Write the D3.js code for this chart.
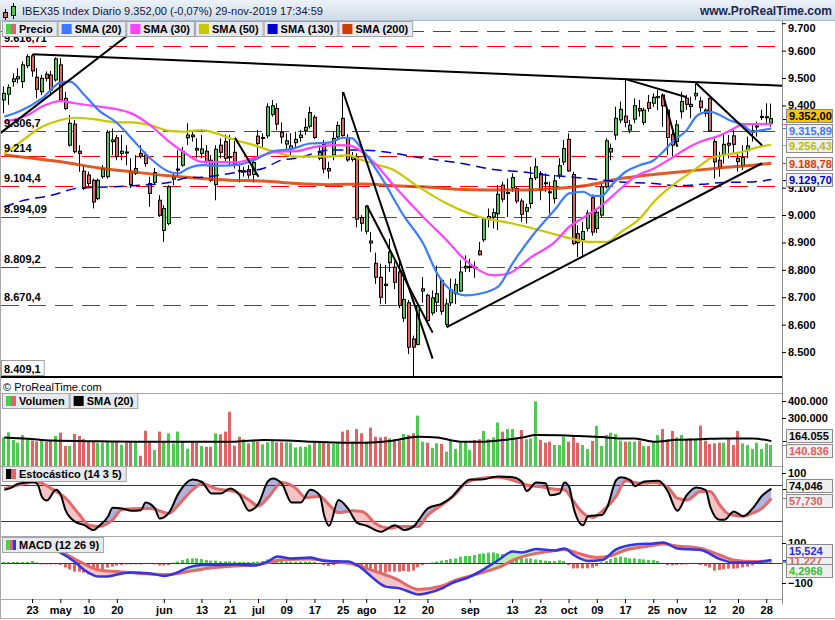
<!DOCTYPE html>
<html>
<head>
<meta charset="utf-8">
<script src="https://cdn.jsdelivr.net/npm/d3@7"></script>
<style>
  body { margin: 0; background: #fff; }
  text { font-family: "Liberation Sans", Arial, sans-serif; font-size: 11px; }
  .b { font-weight: bold; }
</style>
</head>
<body>
<svg id="chart" width="835" height="620"></svg>
<script>
// sessions shown on the chart (IBEX35 daily, 11-abr .. 29-nov-2019)
const months = ["abr", "may", "jun", "jul", "ago", "sep", "oct", "nov"];
const sessionDays = [
  [11,12,15,16,17,18,23,24,25,26,29,30],
  [2,3,6,7,8,9,10,13,14,15,16,17,20,21,22,23,24,27,28,29,30,31],
  [3,4,5,6,7,10,11,12,13,14,17,18,19,20,21,24,25,26,27,28],
  [1,2,3,4,5,8,9,10,11,12,15,16,17,18,19,22,23,24,25,26,29,30,31],
  [1,2,5,6,7,8,9,12,13,14,15,16,19,20,21,22,23,26,27,28,29,30],
  [2,3,4,5,6,9,10,11,12,13,16,17,18,19,20,23,24,25,26,27,30],
  [1,2,3,4,7,8,9,10,11,14,15,16,17,18,21,22,23,24,25,28,29,30,31],
  [1,4,5,6,7,8,11,12,13,14,15,18,19,20,21,22,25,26,27,28,29]
];

// [open, high, low, close]
const candles = [
  [9420,9469,9371,9444],[9441,9477,9402,9465],[9487,9517,9469,9497],[9497,9536,9481,9505],[9487,9560,9463,9548],[9545,9587,9536,9578],[9581,9587,9505,9526],[9503,9536,9426,9459],[9450,9511,9438,9499],[9514,9524,9487,9499],
  [9511,9526,9440,9456],[9493,9575,9487,9570],[9548,9572,9414,9420],[9426,9450,9383,9389],[9255,9365,9250,9335],[9332,9347,9225,9231],[9233,9255,9158,9225],[9160,9182,9091,9097],[9146,9158,9105,9115],[9127,9133,9024,9048],
  [9060,9133,9054,9127],[9140,9182,9133,9170],[9140,9310,9133,9302],[9268,9316,9219,9274],[9282,9292,9200,9213],[9225,9292,9200,9233],[9230,9255,9182,9229],[9158,9207,9099,9111],[9152,9219,9146,9170],[9225,9255,9207,9215],
  [9219,9231,9176,9188],[9115,9140,9030,9079],[9119,9172,9109,9155],[9054,9073,8993,8999],[8944,9036,8902,9024],[8969,9109,8963,9103],[9131,9152,9109,9139],[9164,9237,9140,9168],[9182,9249,9176,9233],[9282,9335,9255,9292],
  [9292,9310,9268,9286],[9243,9280,9207,9237],[9225,9292,9207,9241],[9233,9255,9188,9194],[9200,9219,9121,9127],[9111,9255,9054,9240],[9255,9280,9207,9229],[9268,9294,9194,9207],[9213,9292,9182,9210],[9229,9274,9170,9185],
  [9163,9188,9119,9160],[9158,9176,9140,9162],[9166,9182,9133,9146],[9148,9207,9119,9192],[9288,9310,9213,9261],[9280,9298,9243,9283],[9289,9408,9280,9395],[9367,9420,9359,9399],[9389,9408,9310,9332],[9302,9338,9261,9285],
  [9259,9298,9237,9271],[9241,9298,9219,9252],[9264,9304,9243,9276],[9283,9310,9268,9292],[9309,9353,9292,9320],[9324,9395,9316,9374],[9357,9365,9277,9283],[9207,9255,9200,9228],[9258,9274,9152,9168],[9170,9194,9133,9161],
  [9219,9304,9200,9280],[9285,9341,9274,9327],[9353,9449,9286,9290],[9281,9295,9195,9201],[9203,9230,9195,9212],[9212,9225,8955,8985],[8990,9000,8940,8970],[8941,9036,8930,9032],[8905,8938,8865,8898],[8824,8863,8749,8773],
  [8773,8823,8676,8700],[8748,8818,8676,8743],[8826,8914,8792,8865],[8810,8830,8730,8755],[8792,8830,8660,8670],[8624,8768,8610,8692],[8680,8690,8493,8518],[8548,8560,8409,8518],[8528,8683,8524,8670],[8723,8774,8680,8731],
  [8707,8713,8610,8615],[8643,8725,8634,8698],[8682,8816,8646,8713],[8762,8768,8636,8649],[8601,8695,8591,8676],[8680,8768,8670,8727],[8713,8768,8676,8746],[8723,8835,8719,8792],[8807,8853,8792,8813],[8810,8841,8792,8812],
  [8810,8831,8771,8808],[8869,8902,8853,8855],[8910,8993,8902,8987],[8985,9024,8955,8995],[8993,9024,8951,9009],[9005,9109,8945,9076],[9109,9121,9048,9058],[9080,9133,8993,9082],[9099,9152,9085,9137],[9097,9103,9042,9051],
  [9051,9060,8975,9003],[9014,9042,8969,9027],[9042,9176,9024,9133],[9136,9207,9127,9176],[9152,9160,9054,9091],[9118,9152,9085,9115],[9085,9121,9005,9084],[9060,9146,9042,9125],[9146,9207,9133,9180],[9194,9274,9182,9243],
  [9276,9298,9158,9161],[9148,9158,8890,8896],[8932,8963,8847,8899],[8910,8975,8847,8940],[8952,9018,8940,9007],[9063,9075,8925,8938],[8951,9024,8935,9010],[9000,9115,8990,9103],[9103,9280,9097,9271],[9230,9261,9200,9243],
  [9292,9395,9274,9353],[9347,9414,9335,9386],[9361,9497,9320,9338],[9310,9347,9298,9328],[9350,9426,9335,9399],[9389,9420,9359,9380],[9338,9392,9328,9383],[9411,9438,9377,9389],[9408,9444,9395,9430],[9430,9456,9383,9432],
  [9438,9444,9322,9398],[9383,9389,9219,9283],[9294,9322,9213,9255],[9268,9347,9256,9329],[9377,9450,9353,9414],[9426,9438,9383,9404],[9404,9432,9353,9396],[9435,9481,9420,9444],[9416,9432,9377,9392],[9383,9389,9359,9371],
  [9426,9428,9304,9307],[9268,9280,9133,9194],[9200,9231,9140,9172],[9221,9292,9188,9258],[9262,9292,9207,9255],[9289,9310,9225,9258],[9207,9231,9158,9195],[9180,9255,9164,9210],[9235,9286,9207,9252],[9302,9335,9268,9308],
  [9322,9341,9286,9325],[9358,9384,9347,9360],[9358,9408,9335,9358.6],[9335,9407,9322,9352]
];

// volume, thousands of shares
const volumes = [
  186,216,171,155,200,175,167,163,165,161, 165,194,214,135,135,206,194,176,161,159,
  155,155,165,165,165,143,155,165,155,78, 225,155,112,220,155,210,151,220,159,120,
  161,155,135,131,131,210,204,220,337,137, 190,175,151,167,161,145,157,165,157,157,
  157,155,127,131,131,143,161,155,157,151, 147,151,220,229,161,235,210,161,243,190,
  186,190,180,175,167,206,200,210,314,161, 155,125,151,147,102,167,118,155,161,112,
  171,175,224,175,186,273,220,235,235,180, 229,175,180,398,171,155,161,141,141,190,
  161,194,155,141,118,165,253,135,200,214, 206,167,161,161,161,167,135,135,161,200,
  235,175,224,186,200,175,180,175,255,167, 147,151,155,155,180,141,224,151,141,118,
  155,118,150,140.836
];

// indicator readings: [session index, value]
const sma20 = [[0,9359],[3,9377],[8,9426],[12,9484],[14,9487],[17,9438],[20,9383],[24,9335],[27,9280],[31,9207],[35,9158],[37,9152],[39,9170],[42,9182],[45,9180],[49,9182],[53,9200],[57,9233],[61,9241],[65,9261],[69,9264],[72,9282],[74,9280],[75,9262],[80,9140],[85,8994],[89,8896],[92,8786],[95,8725],[98,8707],[101,8713],[105,8740],[108,8824],[112,8920],[117,9020],[120,9079],[123,9085],[125,9070],[127,9070],[129,9109],[132,9158],[135,9182],[138,9200],[140,9231],[142,9268],[145,9310],[147,9359],[148,9371],[150,9377],[152,9365],[154,9347],[157,9328],[159,9304],[161,9310],[163,9315.89]];
const sma30 = [[0,9341],[5,9365],[8,9396],[12,9416],[15,9408],[19,9398],[23,9389],[27,9371],[31,9328],[35,9268],[38,9231],[42,9194],[45,9194],[49,9192],[53,9207],[58,9231],[62,9233],[66,9249],[70,9255],[73,9254],[78,9201],[83,9103],[89,8993],[94,8908],[98,8835],[104,8780],[107,8786],[112,8847],[117,8902],[120,8957],[123,8990],[127,9036],[131,9097],[134,9140],[138,9170],[141,9200],[145,9243],[148,9268],[152,9290],[155,9316],[157,9332],[160,9332],[163,9332]];
const sma50 = [[0,9225],[3,9261],[8,9322],[12,9347],[15,9355],[19,9350],[24,9338],[27,9338],[31,9328],[35,9307],[38,9304],[42,9310],[45,9298],[49,9274],[53,9255],[58,9228],[62,9213],[66,9213],[69,9213],[73,9219],[76,9201],[80,9180],[82,9170],[88,9103],[94,9042],[101,8993],[108,8969],[115,8939],[121,8912],[124,8902],[128,8902],[131,8938],[135,8987],[138,9048],[142,9109],[145,9146],[148,9182],[150,9207],[153,9219],[157,9231],[160,9247],[163,9256.43]];
const sma130 = [[0,9030],[3,9048],[10,9072],[16,9099],[23,9103],[29,9109],[35,9119],[39,9136],[42,9138],[48,9152],[55,9170],[59,9201],[62,9207],[69,9237],[76,9237],[83,9225],[87,9213],[97,9189],[105,9164],[110,9158],[115,9146],[120,9140],[124,9133],[131,9121],[138,9115],[143,9107],[148,9112],[153,9119],[159,9121],[163,9129.7]];
const sma200 = [[0,9219],[6,9207],[13,9192],[20,9172],[27,9158],[35,9143],[42,9133],[48,9127],[55,9124],[62,9115],[69,9111],[76,9113],[83,9107],[89,9103],[96,9094],[103,9091],[110,9091],[117,9097],[124,9109],[131,9133],[138,9148],[145,9160],[152,9172],[159,9182],[163,9188.78]];
const volSma20 = [[0,186],[5,178],[10,167],[20,163],[28,161],[40,161],[49,161],[55,170],[60,168],[66,160],[72,155],[77,155],[82,165],[88,190],[92,185],[97,161],[102,161],[106,171],[110,185],[113,200],[118,198],[122,194],[127,188],[131,180],[134,180],[138,161],[143,172],[148,175],[153,180],[159,180],[163,164.055]];
const stochK = [[0,72],[1,74],[3,82],[6,85],[7,82],[8,60],[9,54],[11,72],[12,63],[13,38],[15,19],[17,13],[19,5],[20,11],[22,27],[23,42],[25,41],[27,37],[29,38],[30,51],[32,41],[33,24],[35,34],[37,66],[40,89],[42,85],[44,66],[46,66],[48,74],[50,63],[52,37],[54,49],[56,86],[57,91],[59,82],[61,51],[63,51],[65,72],[67,63],[68,28],[69,12],[71,55],[73,41],[75,17],[77,12],[80,2],[83,13],[85,5],[87,11],[88,21],[90,41],[93,49],[95,59],[97,77],[99,89],[101,89],[105,94],[108,93],[110,85],[111,70],[113,84],[115,83],[116,63],[118,66],[119,84],[120,77],[121,41],[123,13],[124,28],[127,30],[128,41],[130,88],[131,93],[133,88],[134,78],[136,86],[139,87],[141,69],[143,37],[145,63],[147,76],[149,72],[150,44],[152,22],[153,22],[155,36],[157,28],[159,41],[161,62],[163,74.046]];
const stochD = [[0,74],[3,80],[7,85],[10,74],[13,58],[16,30],[18,13],[20,11],[23,22],[25,39],[29,41],[31,41],[35,33],[37,47],[40,72],[42,82],[45,74],[49,69],[52,55],[54,45],[56,59],[59,84],[62,74],[64,59],[67,61],[69,47],[71,34],[74,37],[76,36],[79,15],[82,8],[84,11],[88,11],[90,30],[93,47],[96,66],[98,83],[101,91],[105,93],[108,88],[111,80],[114,77],[117,73],[119,72],[121,52],[123,33],[125,26],[127,36],[130,61],[132,87],[135,83],[138,84],[141,76],[143,58],[145,55],[148,69],[150,69],[152,47],[154,31],[157,28],[159,33],[161,41],[163,57.73]];
const macdLine = [[0,100],[5,98],[9,80],[12,50],[15,5],[17,-35],[19,-62],[20,-68],[22,-67],[25,-52],[27,-47],[31,-52],[34,-65],[37,-45],[39,-23],[42,-10],[45,-10],[49,-7],[53,-12],[56,7],[58,32],[61,23],[65,28],[68,10],[73,7],[76,-27],[78,-68],[81,-118],[84,-127],[87,-152],[88,-158],[90,-150],[93,-127],[95,-102],[99,-68],[101,-43],[105,15],[108,57],[110,53],[113,70],[117,62],[119,73],[121,40],[124,10],[127,15],[130,68],[134,93],[138,98],[140,102],[143,73],[148,65],[152,20],[155,2],[159,2],[163,15.524]];
const macdSignal = [[0,95],[5,92],[9,85],[12,57],[16,7],[20,-35],[24,-43],[29,-52],[35,-57],[39,-43],[43,-27],[49,-15],[54,-7],[59,15],[65,20],[70,7],[74,-5],[78,-35],[83,-77],[88,-132],[93,-115],[96,-85],[101,-52],[105,-22],[109,23],[113,48],[117,62],[119,68],[122,48],[126,28],[129,37],[132,65],[137,85],[140,95],[143,85],[148,73],[152,40],[155,15],[159,7],[163,11.227]];
const macdHist = [
  5,5,5,5,5,5,10,3,-7,-7, -7,-7,-10,-22,-32,-43,-43,-48,-57,-57,
  -43,-32,-23,-18,-13,-10,-7,-7,-7,-7, -5,-5,-7,-12,-12,-10,2,7,15,22,
  23,23,20,15,12,12,8,8,8,8, 5,5,5,5,7,10,18,20,15,10,
  7,7,7,7,7,7,5,-5,-10,-15, -10,-5,-3,-7,-10,-18,-27,-38,-43,-52,
  -57,-48,-43,-43,-43,-40,-43,-38,-22,-10, -3,3,7,12,15,20,23,32,35,35,
  40,45,48,52,53,48,45,43,37,32, 27,23,23,18,15,12,10,10,13,10,
  -10,-27,-27,-27,-27,-23,-15,3,10,20, 28,32,28,23,23,20,18,15,15,10,
  -5,-10,-12,-10,-8,-7,-5,-5,-10,-15, -23,-38,-35,-32,-28,-28,-27,-22,-18,-12,
  -5,3,5,4.2968
];

// drawn objects on the price chart
const dashedLevels = [9670, 9616.71, 9306.7, 9214, 9104.4, 8994.09, 8809.2, 8670.4];
const labelledLevels = [9616.71, 9306.7, 9214, 9104.4, 8994.09, 8809.2, 8670.4];
const lowLevel = 8409.1;
// [index1, price1, index2, price2, extendRight]
const trendLines = [
  [6, 9587, 132, 9496, true],
  [-1, 9297, 30, 9706, false],
  [49, 9282, 54, 9140, false],
  [72, 9449, 91, 8476, false],
  [77, 9036, 91, 8571, false],
  [94, 8591, 161, 9189, false],
  [132, 9496, 145, 9430, false],
  [140, 9438, 143, 9249, false],
  [147, 9481, 161, 9255, false]
];

const priceTicks = [8500, 8600, 8700, 8800, 8900, 9000, 9100, 9400, 9500, 9600, 9700];
const xTicks = [["23-abr","23"],["2-may","may"],["10-may","10"],["20-may","20"],["3-jun","jun"],["13-jun","13"],["21-jun","21"],
  ["1-jul","jul"],["9-jul","09"],["17-jul","17"],["25-jul","25"],["1-ago","ago"],["12-ago","12"],["20-ago","20"],["2-sep","sep"],
  ["13-sep","13"],["23-sep","23"],["1-oct","oct"],["9-oct","09"],["17-oct","17"],["25-oct","25"],["1-nov","nov"],["12-nov","12"],
  ["20-nov","20"],["28-nov","28"]];

// ---------------------------------------------------------------
const W = 835, AX = 782;
const GREEN = "#4ccc4c", RED = "#e06464";
const dates = sessionDays.flatMap((days, m) => days.map(d => `${d}-${months[m]}`));

const svg = d3.select("#chart");
const defs = svg.append("defs");
const loc = d3.formatLocale({decimal: ",", thousands: ".", grouping: [3], currency: ["", ""]});
const fPrice = loc.format(",.2f"), fLevel = loc.format(",.2~f"), fInt = loc.format(",.0f"),
      fStoch = loc.format(",.3f"), fMacd = loc.format(".5r");

const x = d3.scaleBand().domain(dates).range([2, 2 + dates.length * 4.706]);
const xi = i => x.range()[0] + x.step() * (i + 0.5);
const y = d3.scaleLinear().domain([lowLevel, 9306.7]).range([377, 131]);
const yV = d3.scaleLinear().domain([0, 400]).range([469, 401]);
const yS = d3.scaleLinear().domain([0, 100]).range([533, 473]);
const yM = d3.scaleLinear().domain([-100, 100]).range([583, 543]);

function clip(id, top, bottom) {
  defs.append("clipPath").attr("id", id).append("rect")
    .attr("x", 1).attr("y", top).attr("width", AX - 1).attr("height", bottom - top);
  return `url(#${id})`;
}

// header
const grad = defs.append("linearGradient").attr("id", "hdr").attr("x1", 0).attr("y1", 0).attr("x2", 0).attr("y2", 1);
grad.append("stop").attr("offset", 0).attr("stop-color", "#edf2f8");
grad.append("stop").attr("offset", 1).attr("stop-color", "#cfdbe8");
svg.append("rect").attr("width", W).attr("height", 20).attr("fill", "url(#hdr)");
svg.append("line").attr("x1", 0).attr("x2", W).attr("y1", 20.5).attr("y2", 20.5).attr("stroke", "#a9b6c4");
// little candle icon
svg.append("line").attr("x1", 5.5).attr("x2", 5.5).attr("y1", 9).attr("y2", 20).attr("stroke", "#000");
svg.append("rect").attr("x", 3.5).attr("y", 12.5).attr("width", 4).attr("height", 5).attr("fill", RED).attr("stroke", "#000");
svg.append("line").attr("x1", 13.5).attr("x2", 13.5).attr("y1", 3).attr("y2", 19).attr("stroke", "#000");
svg.append("rect").attr("x", 11.5).attr("y", 6.5).attr("width", 4).attr("height", 9).attr("fill", GREEN).attr("stroke", "#000");
svg.append("text").attr("x", 22).attr("y", 15).attr("fill", "#15153a")
  .text("IBEX35 Index Diario 9.352,00 (-0,07%) 29-nov-2019 17:34:59");
svg.append("text").attr("class", "b").attr("x", 832).attr("y", 15).attr("text-anchor", "end")
  .attr("fill", "#1a2650").style("font-size", "12px").text("www.ProRealTime.com");

// ---------------- price panel
const gMain = svg.append("g").attr("clip-path", clip("cMain", 21, 379));

gMain.selectAll(".lvl").data(dashedLevels).join("line")
  .attr("x1", 1).attr("x2", AX).attr("y1", d => Math.round(y(d)) + 0.5).attr("y2", d => Math.round(y(d)) + 0.5)
  .attr("stroke", "#ff0000").attr("stroke-dasharray", "18,9");
gMain.append("line").attr("x1", 1).attr("x2", AX).attr("y1", y(lowLevel)).attr("y2", y(lowLevel))
  .attr("stroke", "#000").attr("stroke-width", 2);

const cg = gMain.selectAll(".cdl").data(candles).join("g");
cg.append("line")
  .attr("x1", (d, i) => Math.round(xi(i)) - 0.5).attr("x2", (d, i) => Math.round(xi(i)) - 0.5)
  .attr("y1", d => y(d[1])).attr("y2", d => y(d[2])).attr("stroke", "#000");
cg.append("rect")
  .attr("x", (d, i) => Math.round(xi(i)) - 1.5).attr("width", 3)
  .attr("y", d => y(Math.max(d[0], d[3])))
  .attr("height", d => Math.max(1, Math.abs(y(d[0]) - y(d[3]))))
  .attr("fill", d => d[3] >= d[0] ? GREEN : RED).attr("stroke", "#000");

const lineGen = d3.line().x(d => xi(d[0])).curve(d3.curveMonotoneX);
const mas = [
  {data: sma200, color: "#dc3c00", w: 3, op: 0.85},
  {data: sma130, color: "#0000cc", w: 1.5, dash: "10,6"},
  {data: sma50, color: "#c8c800", w: 2.2},
  {data: sma30, color: "#ff40ff", w: 2.2},
  {data: sma20, color: "#3c7cff", w: 2.2}
];
mas.forEach(m => {
  gMain.append("path").attr("d", lineGen.y(d => y(d[1]))(m.data))
    .attr("fill", "none").attr("stroke", m.color).attr("stroke-width", m.w)
    .attr("stroke-opacity", m.op || 1).attr("stroke-dasharray", m.dash || null);
});

trendLines.forEach(([i1, p1, i2, p2, ext]) => {
  let x2 = xi(i2), y2 = y(p2);
  const x1 = xi(i1), y1 = y(p1);
  if (ext) { y2 = y1 + (y2 - y1) * (AX - x1) / (x2 - x1); x2 = AX; }
  gMain.append("line").attr("x1", x1).attr("y1", y1).attr("x2", x2).attr("y2", y2)
    .attr("stroke", "#000").attr("stroke-width", 2);
});

// level labels on the left
labelledLevels.forEach(v => {
  svg.append("text").attr("class", "b").attr("x", 4).attr("y", y(v) - 4).text(fLevel(v));
});
const lowText = svg.append("text").attr("class", "b").attr("x", 4).attr("y", y(lowLevel) - 4).text(fLevel(lowLevel));
svg.insert("rect", () => lowText.node()).attr("x", 1.5).attr("y", y(lowLevel) - 16.5)
  .attr("width", lowText.node().getComputedTextLength() + 6).attr("height", 15)
  .attr("fill", "#fff").attr("stroke", "#a0a0a0");

// legends
function legend(x0, y0, items) {
  let xx = x0;
  items.forEach(it => {
    const g = svg.append("g");
    const r = g.append("rect").attr("x", xx + 0.5).attr("y", y0 + 0.5).attr("height", 15)
      .attr("fill", "#e6e9ed").attr("stroke", "#a2a6ab");
    const sw = 10 / it.colors.length;
    it.colors.forEach((c, k) => g.append("rect").attr("x", xx + 4 + k * sw).attr("y", y0 + 3)
      .attr("width", sw).attr("height", 10).attr("fill", c));
    const t = g.append("text").attr("class", "b").attr("x", xx + 17).attr("y", y0 + 12).text(it.label);
    const w = t.node().getComputedTextLength() + 21;
    r.attr("width", w);
    xx += w + 1;
  });
}
legend(2, 21, [
  {label: "Precio", colors: [GREEN, RED]},
  {label: "SMA (20)", colors: ["#3c78ff"]},
  {label: "SMA (30)", colors: ["#ff40ff"]},
  {label: "SMA (50)", colors: ["#c8c800"]},
  {label: "SMA (130)", colors: ["#0000c8"]},
  {label: "SMA (200)", colors: ["#d23c00"]}
]);

svg.append("text").attr("x", 3).attr("y", 391).text("© ProRealTime.com");

// ---------------- volume panel
const gVol = svg.append("g").attr("clip-path", clip("cVol", 394, 466));
gVol.selectAll("rect").data(volumes).join("rect")
  .attr("x", (d, i) => Math.round(xi(i)) - 2).attr("width", 3)
  .attr("y", d => yV(d)).attr("height", d => yV(0) - yV(d))
  .attr("fill", (d, i) => candles[i][3] >= candles[i][0] ? GREEN : RED);
gVol.append("path").attr("d", lineGen.y(d => yV(d[1]))(volSma20))
  .attr("fill", "none").attr("stroke", "#000").attr("stroke-width", 2);
legend(2, 393, [{label: "Volumen", colors: [GREEN, RED]}, {label: "SMA (20)", colors: ["#000"]}]);

// ---------------- stochastic panel
function twoLineFill(g, a, b, sc, top, bottom, id, colAbove, colBelow) {
  const ar = (pts, base) => d3.area().x(d => xi(d[0])).y0(base).y1(d => sc(d[1])).curve(d3.curveMonotoneX)(pts);
  defs.append("clipPath").attr("id", id + "B").append("path").attr("d", ar(b, top));
  defs.append("clipPath").attr("id", id + "A").append("path").attr("d", ar(a, top));
  g.append("path").attr("d", ar(a, bottom)).attr("fill", colAbove).attr("clip-path", `url(#${id}B)`);
  g.append("path").attr("d", ar(b, bottom)).attr("fill", colBelow).attr("clip-path", `url(#${id}A)`);
}
const gSto = svg.append("g").attr("clip-path", clip("cSto", 467, 536));
twoLineFill(gSto, stochK, stochD, yS, 460, 540, "fs", "#b2b2da", "#f5c4c4");
[80, 20].forEach(v => gSto.append("line").attr("x1", 1).attr("x2", AX)
  .attr("y1", Math.round(yS(v)) + 0.5).attr("y2", Math.round(yS(v)) + 0.5).attr("stroke", "#2828c8"));
gSto.append("path").attr("d", lineGen.y(d => yS(d[1]))(stochD))
  .attr("fill", "none").attr("stroke", "#e26a6a").attr("stroke-width", 3);
gSto.append("path").attr("d", lineGen.y(d => yS(d[1]))(stochK))
  .attr("fill", "none").attr("stroke", "#000").attr("stroke-width", 2);
legend(2, 466, [{label: "Estocástico (14 3 5)", colors: ["#000", RED]}]);

// ---------------- MACD panel
const gMac = svg.append("g").attr("clip-path", clip("cMac", 537, 599));
gMac.selectAll("rect").data(macdHist).join("rect")
  .attr("x", (d, i) => Math.round(xi(i)) - 2).attr("width", 3)
  .attr("y", d => Math.min(yM(d), yM(0))).attr("height", d => Math.max(1, Math.abs(yM(d) - yM(0))))
  .attr("fill", d => d >= 0 ? GREEN : RED);
twoLineFill(gMac, macdLine, macdSignal, yM, 530, 605, "fm", "#b8f0b0", "#f5c4c4");
gMac.append("line").attr("x1", 1).attr("x2", AX).attr("y1", Math.round(yM(0)) + 0.5).attr("y2", Math.round(yM(0)) + 0.5)
  .attr("stroke", "#2828c8");
gMac.append("path").attr("d", lineGen.y(d => yM(d[1]))(macdSignal))
  .attr("fill", "none").attr("stroke", "#e26a6a").attr("stroke-width", 3);
gMac.append("path").attr("d", lineGen.y(d => yM(d[1]))(macdLine))
  .attr("fill", "none").attr("stroke", "#3434e6").attr("stroke-width", 2.5);
legend(2, 537, [{label: "MACD (12 26 9)", colors: [GREEN, RED, "#3434e6"]}]);

// ---------------- frame
[393.5, 466.5, 536.5, 599.5].forEach(v => svg.append("line").attr("x1", 0).attr("x2", AX).attr("y1", v).attr("y2", v).attr("stroke", "#a8a8a8"));
svg.append("line").attr("x1", 0).attr("x2", W).attr("y1", 618.5).attr("y2", 618.5).attr("stroke", "#b0b0b0");
svg.append("line").attr("x1", 0.5).attr("x2", 0.5).attr("y1", 21).attr("y2", 619).attr("stroke", "#a8a8a8");
svg.append("line").attr("x1", AX + 0.5).attr("x2", AX + 0.5).attr("y1", 21).attr("y2", 604).attr("stroke", "#8c8c8c");

// ---------------- axes
function styleAxis(g) {
  g.select(".domain").remove();
  g.attr("font-family", null).attr("font-size", null);
  g.selectAll("text").attr("class", "b").attr("fill", "#000");
  g.selectAll("line").attr("stroke", "#000");
}
const tickLabel = new Map(xTicks);
svg.append("g").attr("transform", "translate(0,599)")
  .call(d3.axisBottom(x).tickValues(xTicks.map(t => t[0])).tickFormat(d => tickLabel.get(d)).tickSize(4).tickPadding(3))
  .call(styleAxis);

svg.append("g").attr("transform", `translate(${AX},0)`)
  .call(d3.axisRight(y).tickValues(priceTicks).tickFormat(d => fInt(d)).tickSize(4).tickPadding(2))
  .call(styleAxis)
  .selectAll(".tick text").filter(d => y(d) < 28).attr("y", d => 28 - y(d));
svg.append("g").attr("transform", `translate(${AX},0)`)
  .call(d3.axisRight(yV).tickValues([300, 400]).tickFormat(d => fInt(d * 1000)).tickSize(4).tickPadding(2))
  .call(styleAxis);
svg.append("g").attr("transform", `translate(${AX},0)`)
  .call(d3.axisRight(yS).tickValues([100]).tickSize(4).tickPadding(2))
  .call(styleAxis);
svg.append("g").attr("transform", `translate(${AX},0)`)
  .call(d3.axisRight(yM).tickValues([100, -100]).tickSize(4).tickPadding(2))
  .call(styleAxis);

// ---------------- last-value boxes
function valueBoxes(items, gap) {
  const boxed = items.filter(d => d.text);
  boxed.forEach(d => d.cy = d.y);
  const s = boxed.slice().sort((a, b) => a.y - b.y);
  for (let k = 0; k < 40; k++) {
    for (let j = 1; j < s.length; j++) {
      const ov = gap - (s[j].cy - s[j - 1].cy);
      if (ov > 0) { s[j - 1].cy -= ov / 2; s[j].cy += ov / 2; }
    }
  }
  items.forEach(d => svg.append("line").attr("x1", AX + 1).attr("x2", AX + 5)
    .attr("y1", Math.round(d.y) + 0.5).attr("y2", Math.round(d.y) + 0.5).attr("stroke", d.color));
  boxed.sort((a, b) => (a.z || 0) - (b.z || 0)).forEach(d => {
    svg.append("rect").attr("x", 786.5).attr("y", Math.round(d.cy - 6.5) + 0.5).attr("width", 46).attr("height", 13)
      .attr("fill", d.bg || "#efefef").attr("stroke", "#8a8a8a");
    svg.append("text").attr("class", "b").attr("x", 789).attr("y", Math.round(d.cy - 6.5) + 11)
      .attr("fill", d.color).text(d.text);
  });
}
const last = a => a[a.length - 1][1];
const lastClose = candles[candles.length - 1][3];
valueBoxes([
  {y: y(lastClose), text: fPrice(lastClose), color: "#000", bg: "#f7c600", z: 2},
  {y: y(last(sma20)), text: fPrice(last(sma20)), color: "#3c78ff"},
  {y: y(last(sma30)), text: null, color: "#ff40ff"},
  {y: y(last(sma50)), text: fPrice(last(sma50)), color: "#bcbc00"},
  {y: y(last(sma200)), text: fPrice(last(sma200)), color: "#dc3c00"},
  {y: y(last(sma130)), text: fPrice(last(sma130)), color: "#0000cc"}
], 15);
valueBoxes([
  {y: yV(last(volSma20)), text: fInt(last(volSma20) * 1000), color: "#000"},
  {y: yV(volumes[volumes.length - 1]), text: fInt(volumes[volumes.length - 1] * 1000), color: "#e06060"}
], 15);
valueBoxes([
  {y: yS(last(stochK)), text: fStoch(last(stochK)), color: "#000"},
  {y: yS(last(stochD)), text: fStoch(last(stochD)), color: "#e06060"}
], 15);
valueBoxes([
  {y: yM(last(macdLine)), text: fMacd(last(macdLine)), color: "#2a2ae0", z: 1},
  {y: yM(last(macdSignal)), text: fMacd(last(macdSignal)), color: "#e06060", z: 0},
  {y: yM(macdHist[macdHist.length - 1]), text: fMacd(macdHist[macdHist.length - 1]), color: "#3cbc3c", z: 2}
], 10);
</script>
</body>
</html>
